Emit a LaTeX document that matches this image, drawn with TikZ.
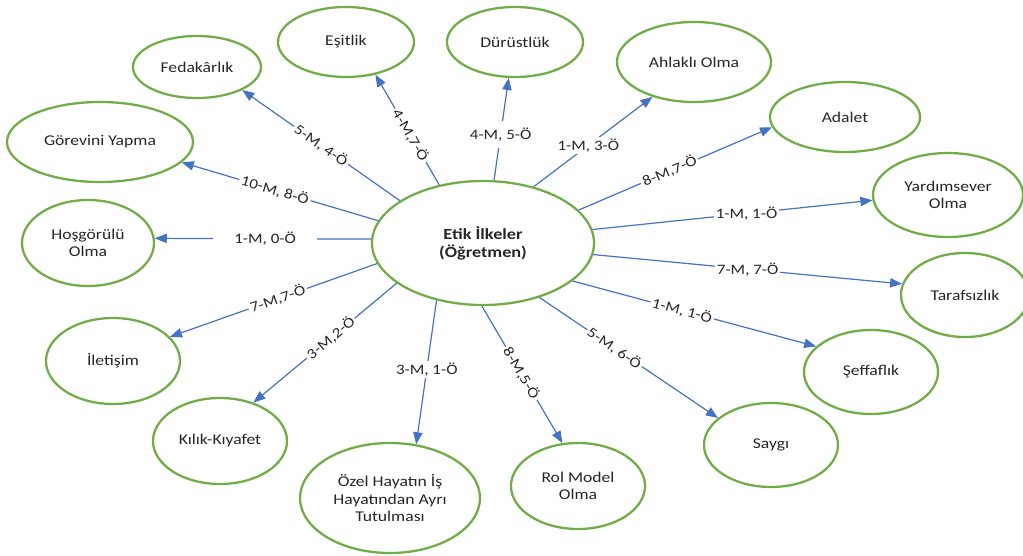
\documentclass[tikz,border=0pt]{standalone}
\usepackage{fontspec}
\setmainfont{Carlito}[FakeStretch=1.18]
\usetikzlibrary{arrows.meta,shapes.geometric}
\definecolor{bubgreen}{RGB}{112,173,71}
\definecolor{linkblue}{RGB}{68,114,196}
\definecolor{txt}{RGB}{38,38,38}
\tikzset{
  bub/.style={ellipse, draw=bubgreen, line width=1.7pt, inner sep=0pt,
    align=center, text=txt, font=\fontsize{11.2}{12.8}\selectfont},
  sz/.style 2 args={minimum width=#1*1.5pt, minimum height=#2*1.5pt},
  link/.style={draw=linkblue, line width=0.9pt,
    -{Triangle[length=9pt,width=7pt]}},
  lbl/.style={fill=white, inner sep=1.5pt, text=txt,
    font=\fontsize{10.8}{12}\selectfont},
}
\begin{document}
\begin{tikzpicture}[x=0.75pt,y=-0.75pt]
\useasboundingbox (0,0) rectangle (1023,556);

% central principle
\node[bub, sz={111}{62}, font=\bfseries\fontsize{11.6}{13.5}\selectfont] (ctr) at (483,243) {Etik İlkeler\\(Öğretmen)};

% surrounding principles
\node[bub, sz={64}{31}] (fed) at (197,67) {Fedakârlık};
\node[bub, sz={68}{35}] (esi) at (346,42) {Eşitlik};
\node[bub, sz={68}{35}] (dur) at (515,42) {Dürüstlük};
\node[bub, sz={77}{40}] (ahl) at (694,62) {Ahlaklı Olma};
\node[bub, sz={75}{35}] (ada) at (845,117) {Adalet};
\node[bub, sz={75}{42}] (yar) at (948,195) {Yardımsever\\Olma};
\node[bub, sz={64}{42}] (tar) at (965,295) {Tarafsızlık};
\node[bub, sz={67}{42}] (sef) at (871,372) {Şeffaflık};
\node[bub, sz={67}{42}] (say) at (771,445) {Saygı};
\node[bub, sz={67}{43}] (rol) at (578,486) {Rol Model\\Olma};
\node[bub, sz={90}{55}] (oze) at (390,498) {Özel Hayatın İş\\Hayatından Ayrı\\Tutulması};
\node[bub, sz={67}{43}] (kil) at (220,441) {Kılık-Kıyafet};
\node[bub, sz={67}{43}] (ile) at (113,361) {İletişim};
\node[bub, sz={66}{43}] (hos) at (88,243) {Hoşgörülü\\Olma};
\node[bub, sz={93}{40}] (gor) at (100,142) {Görevini Yapma};

% links with counts
\draw[link] (ctr.153) -- node[lbl,sloped,pos=0.5]{5-M, 4-Ö} (fed.-27);
\draw[link] (ctr.127) -- node[lbl,sloped,pos=0.45]{4-M,7-Ö} (esi.-48);
\draw[link] (ctr.80) -- node[lbl,inner ysep=5pt,pos=0.45]{4-M, 5-Ö} (dur.-100);
\draw[link] (ctr.48) -- node[lbl,pos=0.46]{1-M, 3-Ö} (ahl.-140);
\draw[link] (ctr.19) -- node[lbl,sloped,pos=0.47]{8-M,7-Ö} (ada.188);
\draw[link] (ctr.7) -- node[lbl,pos=0.55]{1-M, 1-Ö} (yar.184);
\draw[link] (ctr.-6) -- node[lbl,pos=0.5]{7-M, 7-Ö} (tar.170);
\draw[link] (ctr.-23) -- node[lbl,sloped,pos=0.45]{1-M, 1-Ö} (sef.155);
\draw[link] (ctr.-44) -- node[lbl,sloped,pos=0.42]{5-M, 6-Ö} (say.153);
\draw[link] (ctr.-91) -- node[lbl,sloped,pos=0.49]{8-M,5-Ö} (rol.110);
\draw[link] (ctr.-129) -- node[lbl,pos=0.48]{3-M, 1-Ö} (oze.64);
\draw[link] (ctr.-155) -- node[lbl,sloped,pos=0.46]{3-M,2-Ö} (kil.49);
\draw[link] (ctr.-169) -- node[lbl,sloped,pos=0.48]{7-M,7-Ö} (ile.23);
\draw[link] (ctr.178) -- node[lbl,inner xsep=16pt,pos=0.49]{1-M, 0-Ö} (hos.4);
\draw[link] (ctr.168) -- node[lbl,sloped,pos=0.525]{10-M, 8-Ö} (gor.-14);
\end{tikzpicture}
\end{document}
